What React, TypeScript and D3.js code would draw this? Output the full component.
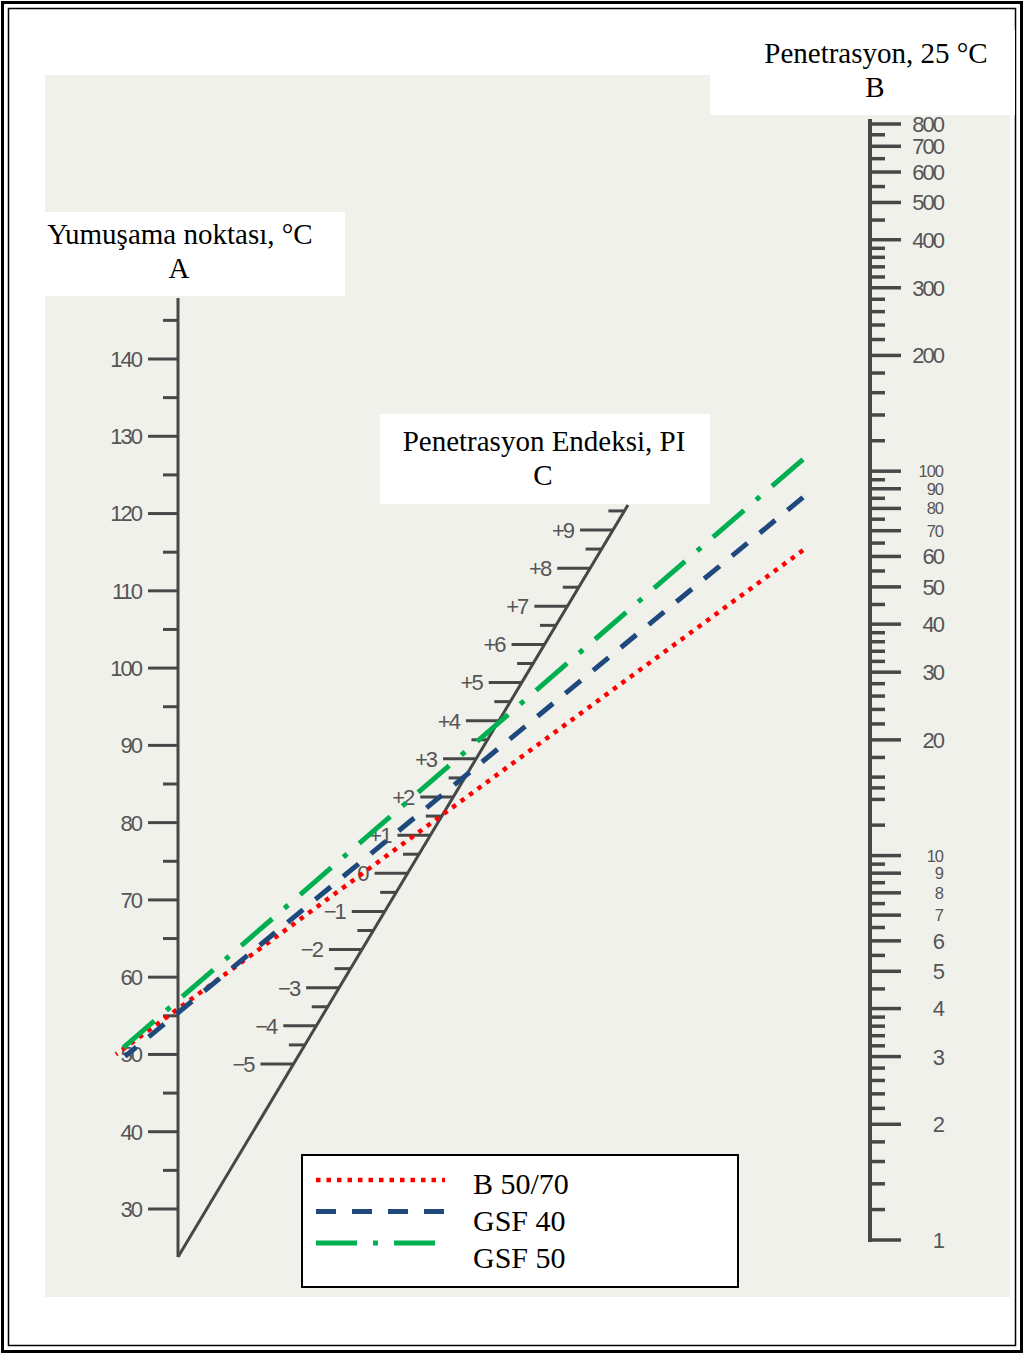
import React from 'react'
import * as d3 from 'd3'

// nomograph: softening point (A), penetration at 25 °C (B), penetration index (C)
const aMajor = [30, 40, 50, 60, 70, 80, 90, 100, 110, 120, 130, 140]
const aMinor = [35, 45, 55, 65, 75, 85, 95, 105, 115, 125, 135, 145]

const bMajor = [1, 2, 3, 4, 5, 6, 7, 8, 9, 10, 20, 30, 40, 50, 60, 70, 80, 90, 100, 200, 300, 400, 500, 600, 700, 800]
const bCrowded = [7, 8, 9, 10, 70, 80, 90, 100]
const bMinor = [
  1.2, 1.4, 1.6, 1.8, 2.2, 2.4, 2.6, 2.8, 3.2, 3.4, 3.6, 3.8, 4.5, 5.5, 6.5, 7.5, 8.5, 9.5,
  12, 14, 15, 16, 18, 22, 24, 26, 28, 32, 34, 36, 38, 45, 55, 65, 75, 85, 95,
  120, 140, 160, 180, 220, 240, 260, 280, 320, 340, 360, 380, 450, 550, 650, 750,
]

const cMajor = [-5, -4, -3, -2, -1, 0, 1, 2, 3, 4, 5, 6, 7, 8, 9]
const cMinor = [-4.5, -3.5, -2.5, -1.5, -0.5, 0.5, 1.5, 2.5, 3.5, 4.5, 5.5, 6.5, 7.5, 8.5, 9.5]

const seriesNames = ['B 50/70', 'GSF 40', 'GSF 50']
const softeningPoint = [55.9, 55.4, 57.0]
const penetration25 = [83.6, 119, 152]

const seriesStyle = [
  { color: '#ff0000', dash: '4.5,6', width: 4.5, x0: 116 },
  { color: '#1f497d', dash: '20,16', width: 5, x0: 125 },
  { color: '#00b050', dash: '41,16,5,16', width: 5, x0: 113 },
]

const W = 1024
const H = 1354
const xA = 178
const xB = 870
const xEnd = 803

const yA = d3.scaleLinear().domain([30, 140]).range([1209, 359])
const yB = d3.scaleLog().domain([1, 800]).range([1240, 124])
const yC = d3.scaleLinear().domain([-5, 9]).range([1064, 530])
// slanted C axis: from bottom of A axis up through the +9 tick
const cBottom = { x: 178, y: 1257 }
const cSlope = (613 - 178) / (530 - 1257)
const xC = (y: number) => cBottom.x + (y - cBottom.y) * cSlope

const tickColor = '#474747'
const labelColor = '#555'
const sans = '"Liberation Sans", Arial, sans-serif'
const serif = '"Liberation Serif", "Times New Roman", serif'

const cLabel = (v: number) => (v > 0 ? '+' + v : v < 0 ? '\u2212' + Math.abs(v) : '0')

export default function App() {
  const line = d3.line<[number, number]>()

  // drawn from the B end towards A so the dash pattern starts at the right end
  const seriesPaths = seriesNames.map((name, i) => {
    const y1 = yA(softeningPoint[i])
    const y2 = yB(penetration25[i])
    const yAt = (x: number) => y1 + ((x - xA) * (y2 - y1)) / (xB - xA)
    const x0 = seriesStyle[i].x0
    return line([[xEnd, yAt(xEnd)], [x0, yAt(x0)]])
  })

  const cTop = 505

  return (
    <svg width={W} height={H} style={{ position: 'absolute', left: 0, top: 0, display: 'block', background: '#fff' }}>
      {/* frame */}
      <rect x={2.5} y={2.5} width={W - 5} height={H - 5} fill="none" stroke="#000" strokeWidth={3} />
      <rect x={8.5} y={8.5} width={W - 17} height={H - 17} fill="none" stroke="#000" strokeWidth={1.5} />

      {/* scanned page background */}
      <rect x={45} y={75} width={965} height={1222} fill="#f1f1ec" />
      <rect x={710} y={30} width={305} height={85} fill="#fff" />
      <rect x={45} y={212} width={300} height={84} fill="#fff" />
      <rect x={380} y={414} width={330} height={90} fill="#fff" />

      {/* A axis */}
      <line x1={xA} x2={xA} y1={298} y2={cBottom.y} stroke={tickColor} strokeWidth={3} />
      {aMajor.map(v => (
        <g key={'am' + v}>
          <line x1={xA - 30} x2={xA} y1={yA(v)} y2={yA(v)} stroke={tickColor} strokeWidth={3} />
          <text x={xA - 37} y={yA(v)} dy="0.36em" textAnchor="end" fontFamily={sans} fontSize={22}
            letterSpacing={-2} fill={labelColor}>{v}</text>
        </g>
      ))}
      {aMinor.map(v => (
        <line key={'an' + v} x1={xA - 15} x2={xA} y1={yA(v)} y2={yA(v)} stroke={tickColor} strokeWidth={3} />
      ))}

      {/* B axis */}
      <line x1={xB} x2={xB} y1={119} y2={1242} stroke={tickColor} strokeWidth={4} />
      {bMajor.map(v => {
        const crowded = bCrowded.includes(v)
        return (
          <g key={'bm' + v}>
            <line x1={xB} x2={xB + 31} y1={yB(v)} y2={yB(v)} stroke={tickColor} strokeWidth={3.5} />
            <text x={943} y={yB(v)} dy="0.36em" textAnchor="end" fontFamily={sans}
              fontSize={crowded ? 16.5 : 22} letterSpacing={crowded ? -1 : -2} fill={labelColor}>{v}</text>
          </g>
        )
      })}
      {bMinor.map(v => (
        <line key={'bn' + v} x1={xB} x2={xB + 15} y1={yB(v)} y2={yB(v)} stroke={tickColor} strokeWidth={3.5} />
      ))}

      {/* C axis */}
      <line x1={cBottom.x} y1={cBottom.y} x2={xC(cTop)} y2={cTop} stroke={tickColor} strokeWidth={3} />
      {cMajor.map(v => {
        const y = yC(v)
        const x = xC(y)
        return (
          <g key={'cm' + v}>
            <line x1={x - 33} x2={x} y1={y} y2={y} stroke={tickColor} strokeWidth={3} />
            <text x={x - 40} y={y} dy="0.36em" textAnchor="end" fontFamily={sans} fontSize={22}
              letterSpacing={-2} fill={labelColor}>{cLabel(v)}</text>
          </g>
        )
      })}
      {cMinor.map(v => {
        const y = yC(v)
        const x = xC(y)
        return <line key={'cn' + v} x1={x - 16} x2={x} y1={y} y2={y} stroke={tickColor} strokeWidth={3} />
      })}

      {/* axis titles */}
      <text x={876} y={63} textAnchor="middle" fontFamily={serif} fontSize={29}>Penetrasyon, 25 °C</text>
      <text x={875} y={97} textAnchor="middle" fontFamily={serif} fontSize={29}>B</text>
      <text x={180} y={244} textAnchor="middle" fontFamily={serif} fontSize={29}>Yumuşama noktası, °C</text>
      <text x={179} y={278} textAnchor="middle" fontFamily={serif} fontSize={29}>A</text>
      <text x={544} y={451} textAnchor="middle" fontFamily={serif} fontSize={29}>Penetrasyon Endeksi, PI</text>
      <text x={543} y={485} textAnchor="middle" fontFamily={serif} fontSize={29}>C</text>

      {/* series lines */}
      {seriesPaths.map((d, i) => (
        <path key={'s' + i} d={d || ''} fill="none" stroke={seriesStyle[i].color}
          strokeWidth={seriesStyle[i].width} strokeDasharray={seriesStyle[i].dash} />
      ))}

      {/* legend */}
      <rect x={302} y={1155} width={436} height={132} fill="#fff" stroke="#000" strokeWidth={2} />
      {seriesNames.map((name, i) => {
        const ly = 1180 + i * 31.5
        return (
          <g key={'lg' + i}>
            <line x1={316} x2={445} y1={ly} y2={ly} stroke={seriesStyle[i].color}
              strokeWidth={seriesStyle[i].width} strokeDasharray={seriesStyle[i].dash} />
            <text x={473} y={1194 + i * 37} fontFamily={serif} fontSize={30}>{name}</text>
          </g>
        )
      })}
    </svg>
  )
}
